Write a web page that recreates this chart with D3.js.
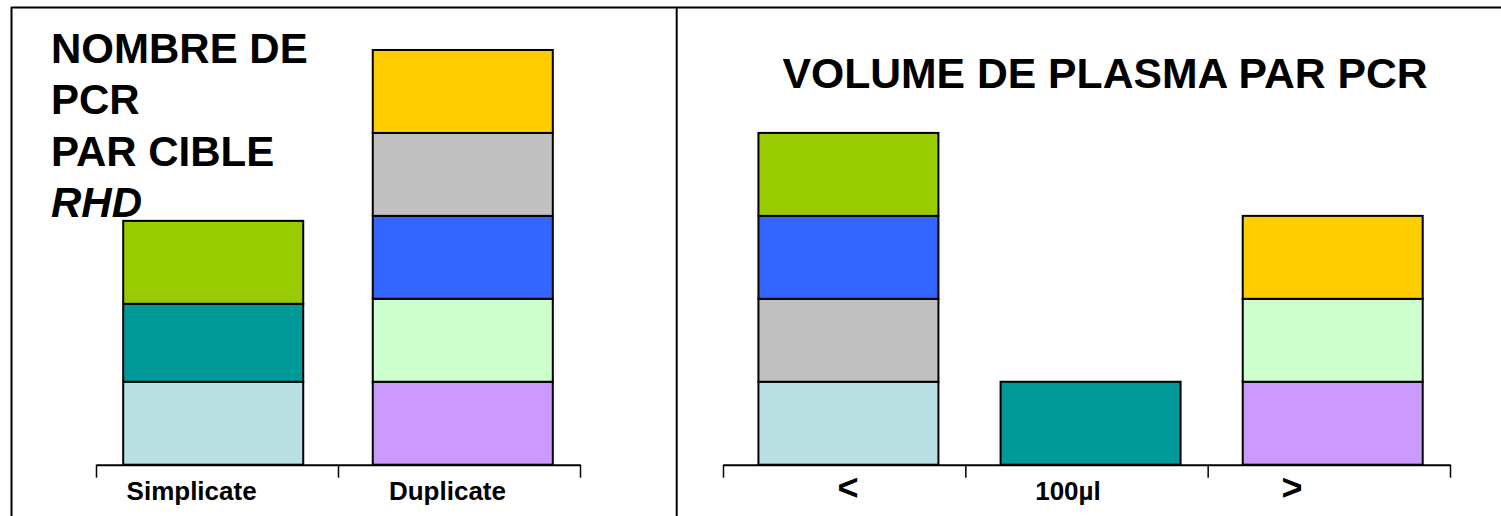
<!DOCTYPE html>
<html>
<head>
<meta charset="utf-8">
<script src="https://cdn.jsdelivr.net/npm/d3@7"></script>
<style>
  html, body { margin: 0; padding: 0; background: #fff; }
  svg { display: block; }
  text { font-family: "Liberation Sans", Arial, sans-serif; fill: #000; }
</style>
</head>
<body>
<svg id="chart" width="1501" height="516"></svg>
<script>
// PCR targets and their fill colours
const targetKeys = ["T1", "T2", "T3", "T4", "T5", "T6", "T7", "T8"];
const targetColors = ["#BBE0E3", "#009999", "#99CC00", "#CC99FF", "#CCFFCC", "#3366FF", "#C0C0C0", "#FFCC00"];

// Left panel: number of PCR per RHD target (stacked, bottom to top)
const replicateCategories = ["Simplicate", "Duplicate"];
const replicateTargets = [
  ["T1", "T2", "T3"],
  ["T4", "T5", "T6", "T7", "T8"]
];
const replicateValues = [
  [1, 0.94, 1],
  [1, 1, 1, 1, 1]
];

// Right panel: plasma volume per PCR (stacked, bottom to top)
const volumeCategories = ["<", "100µl", ">"];
const volumeTargets = [
  ["T1", "T7", "T6", "T3"],
  ["T2"],
  ["T4", "T5", "T8"]
];
const volumeValues = [
  [1, 1, 1, 1],
  [1],
  [1, 1, 1]
];

const leftTitleLines = ["NOMBRE DE", "PCR", "PAR CIBLE", "RHD"];
const rightTitle = "VOLUME DE PLASMA PAR PCR";

// ---- layout ----
const svg = d3.select("#chart");
const baseY = 464.7;
const color = d3.scaleOrdinal().domain(targetKeys).range(targetColors);
const y = d3.scaleLinear().domain([0, 5]).range([baseY, 50]);

// frame: top rule, left rule and panel divider
const frame = svg.append("g").attr("stroke", "#000").attr("stroke-width", 2);
frame.append("line").attr("x1", 11).attr("x2", 1501).attr("y1", 7.5).attr("y2", 7.5);
frame.append("line").attr("x1", 11.5).attr("x2", 11.5).attr("y1", 7).attr("y2", 516);
frame.append("line").attr("x1", 676.7).attr("x2", 676.7).attr("y1", 7).attr("y2", 516);

function drawPanel(cfg) {
  const x = d3.scaleBand()
    .domain(cfg.categories)
    .range(cfg.range)
    .paddingInner(cfg.paddingInner)
    .paddingOuter(cfg.paddingOuter)
    .align(cfg.align);

  const g = svg.append("g");

  // stacked segments
  cfg.categories.forEach((cat, i) => {
    const vals = cfg.values[i];
    const keys = cfg.targets[i];
    const tops = d3.cumsum(vals);
    const segs = vals.map((v, j) => ({ key: keys[j], y0: tops[j] - v, y1: tops[j] }));
    g.append("g").selectAll("rect")
      .data(segs)
      .join("rect")
      .attr("x", x(cat))
      .attr("width", x.bandwidth())
      .attr("y", d => y(d.y1))
      .attr("height", d => y(d.y0) - y(d.y1))
      .attr("fill", d => color(d.key))
      .attr("stroke", "#000")
      .attr("stroke-width", 2);
  });

  // category axis: baseline with downward boundary ticks
  const n = cfg.categories.length;
  const bounds = d3.scaleLinear().domain([0, n]).range(cfg.range);
  const axis = g.append("g").attr("transform", `translate(0,${baseY})`);
  axis.call(d3.axisBottom(bounds).tickValues(d3.range(n + 1)).tickSize(13).tickSizeOuter(0).tickFormat(""));
  axis.select(".domain").attr("stroke", "#000").attr("stroke-width", 2);
  axis.selectAll(".tick line").attr("stroke", "#000").attr("stroke-width", 1.5);

  // category labels
  g.append("g").selectAll("text")
    .data(cfg.categories)
    .join("text")
    .attr("x", (d, i) => x(d) + x.bandwidth() / 2 + cfg.labelDx[i])
    .attr("y", cfg.labelY)
    .attr("text-anchor", "middle")
    .attr("font-size", (d, i) => cfg.labelSize[i])
    .attr("font-weight", "bold")
    .text(d => d);
}

drawPanel({
  categories: replicateCategories,
  targets: replicateTargets,
  values: replicateValues,
  range: [96, 580],
  paddingInner: 0.2786,
  paddingOuter: 0.109,
  align: 0.5,
  labelDx: [-21.6, -15.3],
  labelSize: [26, 26],
  labelY: 500
});

drawPanel({
  categories: volumeCategories,
  targets: volumeTargets,
  values: volumeValues,
  range: [723, 1450],
  paddingInner: 0.2567,
  paddingOuter: 0.1295,
  align: 0.565,
  labelDx: [-0.4, -22.6, -40.7],
  labelSize: [36, 26, 36],
  labelY: 500
});

// titles
const lt = svg.append("text")
  .attr("x", 51)
  .attr("font-size", 42)
  .attr("font-weight", "bold");
leftTitleLines.forEach((line, i) => {
  lt.append("tspan")
    .attr("x", 51)
    .attr("y", 62.7 + i * 51.5)
    .attr("font-style", i === leftTitleLines.length - 1 ? "italic" : "normal")
    .text(line);
});

svg.append("text")
  .attr("x", 1105)
  .attr("y", 88)
  .attr("text-anchor", "middle")
  .attr("font-size", 42.7)
  .attr("font-weight", "bold")
  .text(rightTitle);
</script>
</body>
</html>
